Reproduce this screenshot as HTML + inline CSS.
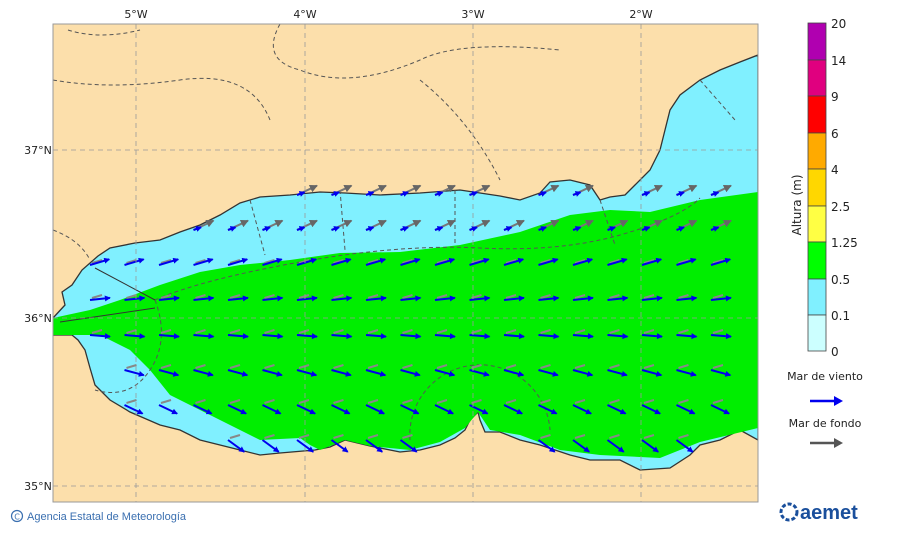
<!DOCTYPE html>
<html><head><meta charset="utf-8"><style>
body{margin:0;background:#fff;width:900px;height:533px;overflow:hidden;font-family:"Liberation Sans","DejaVu Sans",sans-serif}
</style></head><body>
<svg id="s" width="900" height="533" xmlns="http://www.w3.org/2000/svg" font-family="DejaVu Sans, Liberation Sans, sans-serif">
<defs>
<clipPath id="c"><rect x="53" y="24" width="705" height="478"/></clipPath>
<marker id="hb" markerWidth="6" markerHeight="6" refX="5" refY="3" orient="auto" markerUnits="userSpaceOnUse"><path d="M0,0L6,3L0,6z" fill="#0000ee"/></marker>
<marker id="hg" markerWidth="8" markerHeight="8" refX="7" refY="4" orient="auto" markerUnits="userSpaceOnUse"><path d="M0,0L8,4L0,8z" fill="#666"/></marker>
</defs>
<rect x="53" y="24" width="705" height="478" fill="#fcdfab"/>
<g clip-path="url(#c)" id="m">
<polygon id="sea" fill="#80f0ff" stroke="#333" stroke-width="1.3" points="53,318 65,305 62,292 72,285 82,270 98,256 110,248 135,243 160,240 180,232 200,225 220,215 240,203 260,197 290,195 320,192 345,193 380,195 420,193 460,190 500,196 520,200 540,193 550,182 570,180 590,185 600,200 610,197 625,195 635,185 650,170 660,150 665,130 670,110 680,95 700,80 720,70 740,62 758,55 758,440 740,430 720,440 700,445 690,455 670,468 640,470 620,460 590,460 570,455 540,445 520,440 500,432 485,432 480,420 478,412 470,420 465,430 455,438 440,445 420,450 400,452 370,446 345,440 330,447 315,450 280,453 260,455 240,450 220,445 200,440 180,430 160,425 130,412 110,400 95,385 90,368 85,350 78,340 72,335 53,335"/>
<polygon fill="#00ee00" points="53,318 90,310 120,300 160,285 200,272 240,265 290,260 340,253 400,252 460,245 520,232 570,215 610,210 650,212 700,200 758,192 758,428 700,442 660,458 600,455 560,450 520,435 490,430 478,412 465,428 440,442 410,450 370,446 345,440 320,450 310,445 300,438 260,440 230,425 200,410 170,395 150,370 130,350 100,335 53,335"/>
<g fill="none" stroke="#555" stroke-width="1" stroke-dasharray="4,3">
<path d="M155,300 Q200,280 300,262 T480,248 T620,235 T700,198"/>
<path d="M155,300 Q170,340 150,370 T95,390"/>
<path d="M410,440 A70,70 0 0 1 550,430"/>
<path d="M250,200 L265,255 M340,190 L345,250 M455,190 L455,245 M600,200 L615,245 M700,80 L735,120"/>
<path d="M68,30 Q100,40 140,30 M280,24 Q260,60 300,70 Q350,90 420,60 Q460,40 560,50 M53,80 Q110,90 180,80 T270,120 M420,80 Q470,120 500,180 M53,230 Q80,240 90,260"/>
</g>
<path d="M60,322 L155,308 M95,268 L155,300" stroke="#333" stroke-width="1" fill="none"/>
<g id="ar"></g>
<g stroke="#999" stroke-width="0.8" stroke-dasharray="5,4">
<line x1="136" y1="24" x2="136" y2="502"/><line x1="305" y1="24" x2="305" y2="502"/><line x1="473" y1="24" x2="473" y2="502"/><line x1="641" y1="24" x2="641" y2="502"/>
<line x1="53" y1="150" x2="758" y2="150"/><line x1="53" y1="318" x2="758" y2="318"/><line x1="53" y1="486" x2="758" y2="486"/>
</g>
</g>
<rect x="53" y="24" width="705" height="478" fill="none" stroke="#999" stroke-width="1"/>
<g font-size="11" fill="#222" text-anchor="middle">
<text x="136" y="18">5°W</text><text x="305" y="18">4°W</text><text x="473" y="18">3°W</text><text x="641" y="18">2°W</text>
<text x="38" y="154">37°N</text><text x="38" y="322">36°N</text><text x="38" y="490">35°N</text>
</g>
<g stroke="#444" stroke-width="0.8">
<rect x="808" y="23" width="18" height="37" fill="#b000b0"/>
<rect x="808" y="60" width="18" height="36" fill="#e0007f"/>
<rect x="808" y="96" width="18" height="37" fill="#ff0000"/>
<rect x="808" y="133" width="18" height="36" fill="#ffaa00"/>
<rect x="808" y="169" width="18" height="37" fill="#ffd700"/>
<rect x="808" y="206" width="18" height="36" fill="#ffff44"/>
<rect x="808" y="242" width="18" height="37" fill="#00ff00"/>
<rect x="808" y="279" width="18" height="36" fill="#80f0ff"/>
<rect x="808" y="315" width="18" height="36" fill="#ccffff"/>
</g>
<g font-size="12" fill="#222">
<text x="831" y="28">20</text><text x="831" y="65">14</text><text x="831" y="101">9</text><text x="831" y="138">6</text><text x="831" y="174">4</text><text x="831" y="211">2.5</text><text x="831" y="247">1.25</text><text x="831" y="284">0.5</text><text x="831" y="320">0.1</text><text x="831" y="356">0</text>
</g>
<text transform="translate(801,205) rotate(-90)" font-size="12" text-anchor="middle" fill="#222">Altura (m)</text>
<text x="825" y="380" font-size="11" text-anchor="middle" fill="#222">Mar de viento</text>
<line x1="810" y1="401" x2="838" y2="401" stroke="#0000ee" stroke-width="2.5"/><path d="M834,396 L843,401 L834,406z" fill="#0000ee"/>
<text x="825" y="427" font-size="11" text-anchor="middle" fill="#222">Mar de fondo</text>
<line x1="810" y1="443" x2="838" y2="443" stroke="#555" stroke-width="2.5"/><path d="M834,438 L843,443 L834,448z" fill="#555"/>
<circle cx="17" cy="516" r="5.5" fill="none" stroke="#3a6fb0" stroke-width="1.2"/>
<text x="17" y="519.5" font-size="8" text-anchor="middle" fill="#3a6fb0">C</text>
<text x="27" y="520" font-size="11" fill="#3a6fb0" font-family="Liberation Sans, sans-serif">Agencia Estatal de Meteorología</text>
<text x="800" y="519" font-size="20" font-weight="bold" fill="#1a4f9c" font-family="Liberation Sans, sans-serif">aemet</text>
<circle cx="789" cy="512" r="8" fill="none" stroke="#1a4f9c" stroke-width="3" stroke-dasharray="4,2"/>
</svg>
<script>
var pts=document.getElementById('sea').getAttribute('points').trim().split(/\s+/).map(function(p){return p.split(',').map(Number)});
function inside(x,y){var c=false;for(var i=0,j=pts.length-1;i<pts.length;j=i++){var a=pts[i],b=pts[j];if((a[1]>y)!=(b[1]>y)&&x<(b[0]-a[0])*(y-a[1])/(b[1]-a[1])+a[0])c=!c;}return c;}
var g=document.getElementById('ar'),h='';
for(var y=195;y<=475;y+=35){for(var x=90;x<=745;x+=34.5){
 if(!inside(x,y)||!inside(x+20,y))continue;
 var north=y<262;
 if(north){
  var ga=-25*Math.PI/180;
  h+='<line x1="'+x+'" y1="'+y+'" x2="'+(x+22*Math.cos(ga))+'" y2="'+(y+22*Math.sin(ga))+'" stroke="#777" stroke-width="2" marker-end="url(#hg)"/>';
 } else {
  h+='<line x1="'+(x+2)+'" y1="'+(y-2)+'" x2="'+(x+12)+'" y2="'+(y-5)+'" stroke="#888" stroke-width="2"/>';
 }
 var ba=north?-20:(y-320)*0.3; ba=ba*Math.PI/180; var bl=north?8:20;
 h+='<line x1="'+x+'" y1="'+y+'" x2="'+(x+bl*Math.cos(ba))+'" y2="'+(y+bl*Math.sin(ba))+'" stroke="#0000ee" stroke-width="2" marker-end="url(#hb)"/>';
}}
g.innerHTML=h;
</script>
</body></html>
